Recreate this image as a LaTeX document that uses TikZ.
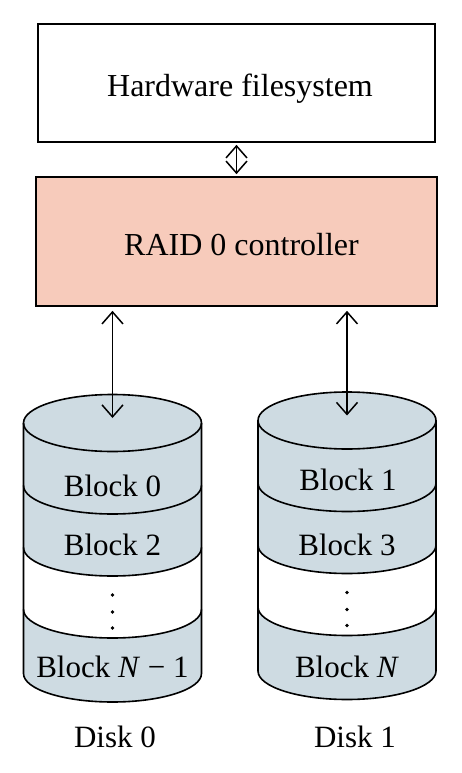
\documentclass[tikz,border=0pt]{standalone}
\usepackage{fontspec}
\setmainfont{Liberation Serif}
\usetikzlibrary{arrows.meta}
\definecolor{diskblue}{RGB}{206,219,226}
\definecolor{peach}{RGB}{247,203,187}
\tikzset{
  box/.style={draw=black, line width=1.6pt, rectangle, inner sep=0pt},
  bigtext/.style={font=\fontsize{32}{38}\selectfont, anchor=base, inner sep=0pt},
  blocktext/.style={font=\fontsize{31}{37}\selectfont, anchor=base, inner sep=0pt},
  darrow/.style={line width=1.5pt, {Straight Barb[length=12pt,width=21pt,line width=1.5pt]}-{Straight Barb[length=12pt,width=21pt,line width=1.5pt]}},
  diskline/.style={line width=1.6pt},
}
\newcommand\mydisk{%
  \fill[diskblue] (-89,-423) -- (-89,-673.5) arc[start angle=180,end angle=360,x radius=89,y radius=28.5] -- (89,-423) -- cycle;
  \fill[white] (-89,-547.5) arc[start angle=180,end angle=360,x radius=89,y radius=28.5] -- (89,-609.5) arc[start angle=0,end angle=-180,x radius=89,y radius=28.5] -- cycle;
  \draw[diskline, fill=diskblue] (0,-423) ellipse[x radius=89,y radius=28.5];
  \foreach \s in {-485.5,-547.5,-609.5}{
    \draw[diskline] (-89,\s) arc[start angle=180,end angle=360,x radius=89,y radius=28.5];
  }
  \draw[diskline] (-89,-423) -- (-89,-673.5) arc[start angle=180,end angle=360,x radius=89,y radius=28.5] -- (89,-423);
  \foreach \d in {-595,-612,-628}{\fill (0,\d) circle[radius=1.9];}
}
\begin{document}
\begin{tikzpicture}[x=1pt,y=1pt]
\useasboundingbox (0,0) rectangle (461,-773);
% boxes
\node[box, fill=white, minimum width=397pt, minimum height=118pt] (hw) at (236.5,-83) {};
\node[box, fill=peach, minimum width=401pt, minimum height=129pt] (raid) at (236.5,-241.5) {};
\node[bigtext] (hwtext) at (240,-97) {Hardware filesystem};
\node[bigtext] (raidtext) at (241.5,-255) {RAID 0 controller};
% disks
\begin{scope}[shift={(112.5,0)}]
  \mydisk
  \coordinate (d0top) at (0,-418);
  \node[blocktext] (b0) at (0,-496) {Block 0};
  \node[blocktext] (b2) at (0,-555) {Block 2};
  \node[blocktext] (bn1) at (0,-677) {Block \textit{N} − 1};
  \node[blocktext] (disk0) at (2.5,-747) {Disk 0};
\end{scope}
\begin{scope}[shift={(347,2.5)}]
  \mydisk
  \coordinate (d1top) at (0,-418);
  \node[blocktext] (b1) at (1,-492.5) {Block 1};
  \node[blocktext] (b3) at (0,-557.5) {Block 3};
  \node[blocktext] (bn) at (0,-679.5) {Block \textit{N}};
  \node[blocktext] (disk1) at (8,-749.5) {Disk 1};
\end{scope}
% arrows
\draw[darrow, shorten <=2pt, shorten >=2pt] (hw.south) -- (raid.north);
\draw[darrow, shorten <=4pt] (d0top |- raid.south) -- (d0top);
\draw[darrow, shorten <=4pt] (d1top |- raid.south) -- (d1top);
\end{tikzpicture}
\end{document}
